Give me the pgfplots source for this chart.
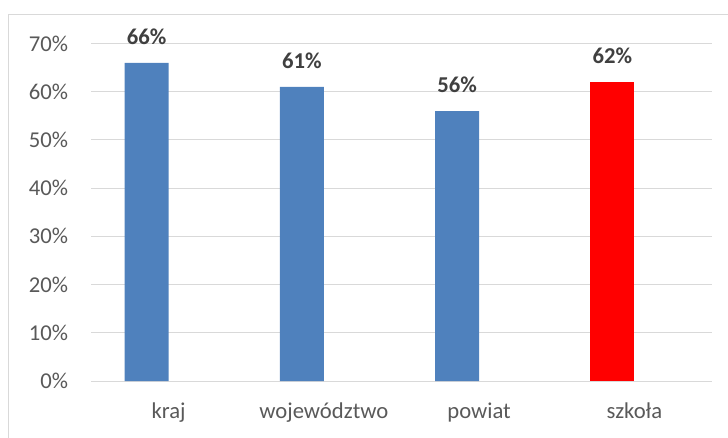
\documentclass[border=0pt]{standalone}
\usepackage{fontspec}
\setmainfont{Carlito}
\usepackage{pgfplots}
\pgfplotsset{compat=1.18}
\definecolor{barblue}{HTML}{4F81BD}
\definecolor{gridgray}{HTML}{D9D9D9}
\definecolor{ticktext}{HTML}{595959}
\definecolor{labeltext}{HTML}{404040}
\begin{document}
\begin{tikzpicture}
% page size: 728x437 px at 0.75pt per px
\path[use as bounding box] (-68.25pt,-42pt) rectangle (477.75pt,285.75pt);
\draw[gridgray, line width=0.75pt] (-61.5pt,-80pt) -- (-61.5pt,275.25pt) -- (520pt,275.25pt);
\begin{axis}[
  at={(0,0)}, anchor=south west,
  scale only axis, width=465.75pt, height=253.125pt,
  ybar, bar width=33pt,
  xmin=-0.5, xmax=3.5, ymin=0, ymax=70,
  xtick={0,1,2,3}, xticklabels={kraj, województwo, powiat, szkoła},
  ytick={0,10,...,70}, yticklabels={0\%,10\%,20\%,30\%,40\%,50\%,60\%,70\%},
  axis line style={draw=none},
  major tick length=0pt,
  ymajorgrids, grid style={gridgray, line width=0.75pt},
  tick label style={font=\fontsize{17}{20}\selectfont, text=ticktext},
  yticklabel style={anchor=east, inner sep=0pt, xshift=-17pt},
  xticklabel style={anchor=base, inner sep=0pt, yshift=-27.75pt},
  nodes near coords={\pgfmathprintnumber[assume math mode=true]{\pgfplotspointmeta}\%},
  every node near coord/.append style={font=\bfseries\fontsize{17}{20}\selectfont, text=labeltext, anchor=base, inner sep=0pt, yshift=13.9pt},
  clip=false,
]
\addplot[fill=barblue, draw=none, bar shift=-16.5pt] coordinates {(0,66) (1,61) (2,56)};
\addplot[fill=red, draw=none, bar shift=-16.5pt] coordinates {(3,62)};
\end{axis}
\end{tikzpicture}
\end{document}
